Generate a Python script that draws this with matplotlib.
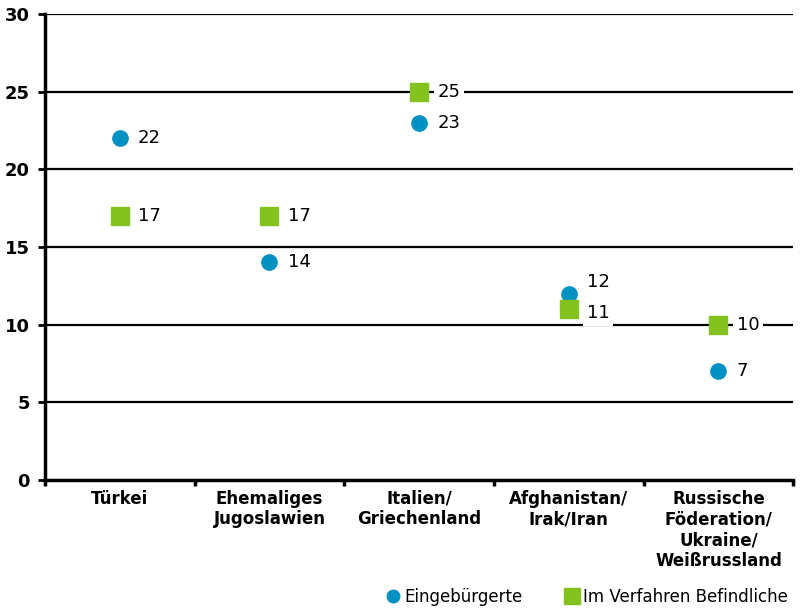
import matplotlib
matplotlib.use("Agg")
from matplotlib import pyplot as plt
from matplotlib.lines import Line2D

categories = ["Türkei", "Ehemaliges\nJugoslawien", "Italien/\nGriechenland",
              "Afghanistan/\nIrak/Iran", "Russische\nFöderation/\nUkraine/\nWeißrussland"]
eingebuergerte = [22, 14, 23, 12, 7]
im_verfahren = [17, 17, 25, 11, 10]
yticks = [0, 5, 10, 15, 20, 25, 30]

blue = "#0091c3"
green = "#84c31f"

fig = plt.figure(figsize=(8.09, 6.09), dpi=100)
ax = fig.add_axes([0.0556, 0.212, 0.925, 0.765])

xs = [i + 0.5 for i in range(len(categories))]

# horizontal grid lines
for y in yticks[1:]:
    ax.axhline(y, color="black", lw=1.6, zorder=0)

ax.plot(xs, eingebuergerte, "o", color=blue, ms=11, zorder=3)
ax.plot(xs, im_verfahren, "s", color=green, ms=13, zorder=3)


def label(x, v, dy=0):
    ax.annotate(str(v), (x, v), xytext=(13, dy), textcoords="offset points",
                va="center", ha="left", fontsize=13, zorder=2,
                bbox=dict(boxstyle="square,pad=0.2", fc="white", ec="none"))


# the Afghanistan pair sits too close, nudge the labels apart
for i, (x, v) in enumerate(zip(xs, eingebuergerte)):
    label(x, v, 8 if i == 3 else 0)
for i, (x, v) in enumerate(zip(xs, im_verfahren)):
    label(x, v, -3 if i == 3 else 0)

ax.set_xlim(0, 5)
ax.set_ylim(0, 30)
ax.set_yticks(yticks)
ax.set_yticklabels([str(t) for t in yticks], fontsize=13, fontweight="bold")

ax.set_xticks(range(6))
ax.set_xticklabels([])
ax.set_xticks(xs, minor=True)
ax.set_xticklabels(categories, minor=True, fontsize=12, fontweight="bold",
                   linespacing=1.2)
ax.tick_params(axis="x", which="minor", length=0, pad=7)
ax.tick_params(axis="x", which="major", length=4, width=2.5, direction="out")
ax.tick_params(axis="y", length=5, width=2, pad=6)

for s in ["top", "right"]:
    ax.spines[s].set_visible(False)
for s in ["left", "bottom"]:
    ax.spines[s].set_linewidth(2.5)

handles = [
    Line2D([], [], marker="o", ls="none", color=blue, ms=9),
    Line2D([], [], marker="s", ls="none", color=green, ms=11),
]
fig.legend(handles, ["Eingebürgerte", "Im Verfahren Befindliche"],
           loc="center", bbox_to_anchor=(0.725, 0.02), ncol=2, frameon=False,
           fontsize=12, handletextpad=0.15, columnspacing=2.5, handlelength=1.0)

fig.savefig("out.png", dpi=100)
